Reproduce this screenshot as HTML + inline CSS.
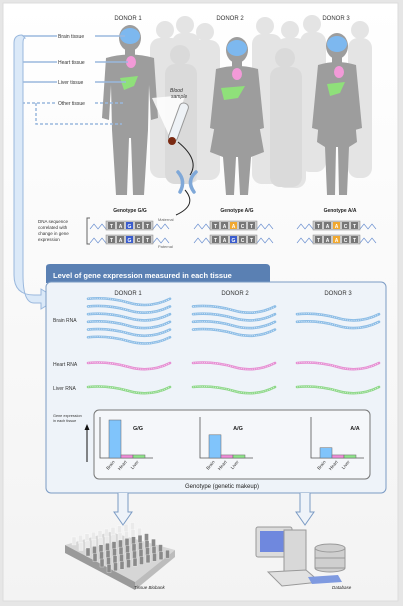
<!DOCTYPE html>
<html><head><meta charset="utf-8">
<style>
html,body{margin:0;padding:0;background:#e9e9e9;}
svg{display:block;font-family:"Liberation Sans",sans-serif;}
</style></head>
<body>
<svg id="fig" width="403" height="606" viewBox="0 0 403 606">
<defs>
<linearGradient id="bg" x1="0" y1="0" x2="0" y2="1"><stop offset="0" stop-color="#ffffff"/><stop offset="1" stop-color="#f3f3f3"/></linearGradient>
</defs>
<rect x="0" y="0" width="403" height="606" fill="#e6e6e6"/>
<rect x="3" y="3" width="395" height="598" fill="url(#bg)" stroke="#dcdcdc"/>

<!-- crowd -->
<g fill="#e4e4e4">
<circle cx="165" cy="30" r="9"/><rect x="150" y="38" width="32" height="140" rx="10"/>
<circle cx="185" cy="25" r="9"/><rect x="172" y="33" width="28" height="150" rx="10"/>
<circle cx="205" cy="32" r="9"/><rect x="190" y="40" width="30" height="140" rx="10"/>
<circle cx="265" cy="26" r="9"/><rect x="252" y="34" width="30" height="150" rx="10"/>
<circle cx="290" cy="30" r="9"/><rect x="276" y="38" width="30" height="150" rx="10"/>
<circle cx="312" cy="24" r="9"/><rect x="300" y="32" width="26" height="140" rx="10"/>
<circle cx="360" cy="30" r="9"/><rect x="348" y="38" width="24" height="140" rx="10"/>
<circle cx="180" cy="55" r="10" fill="#dadada"/><rect x="165" y="64" width="32" height="120" rx="10" fill="#dadada"/>
<circle cx="285" cy="58" r="10" fill="#dadada"/><rect x="270" y="67" width="32" height="120" rx="10" fill="#dadada"/>
</g>

<!-- donors -->
<g fill="#9d9d9d">
<g>
<ellipse cx="130" cy="38" rx="11" ry="13"/><rect x="125" y="48" width="10" height="9"/>
<path d="M106 58 Q130 51 154 58 L158 118 L151 120 L149 85 L148 130 L144 195 L133 195 L131 138 L129 138 L127 195 L116 195 L112 130 L111 85 L109 120 L102 118 Z"/>
</g>
<g>
<ellipse cx="237" cy="50" rx="11" ry="13"/><rect x="232" y="60" width="10" height="9"/>
<path d="M216 69 Q237 63 258 69 L264 128 L257 130 L255 102 L264 152 L251 157 L248 195 L240 195 L238 157 L236 157 L234 195 L226 195 L223 157 L210 152 L219 102 L217 130 L210 128 Z"/>
</g>
<g>
<ellipse cx="337" cy="46" rx="11" ry="13"/><rect x="332" y="56" width="10" height="9"/>
<path d="M318 65 Q337 59 356 65 L362 128 L355 130 L353 97 L357 142 L349 147 L347 195 L339 195 L338 147 L336 147 L335 195 L327 195 L325 147 L317 142 L321 97 L319 130 L312 128 Z"/>
</g>
</g>
<g>
<ellipse cx="130" cy="36" rx="10" ry="8" fill="#7db8ef"/>
<ellipse cx="237" cy="48" rx="10" ry="8" fill="#7db8ef"/>
<ellipse cx="337" cy="44" rx="10" ry="8" fill="#7db8ef"/>
<ellipse cx="131" cy="62" rx="5" ry="6" fill="#f29ad8"/>
<ellipse cx="237" cy="74" rx="5" ry="6" fill="#f29ad8"/>
<ellipse cx="339" cy="72" rx="5" ry="6" fill="#f29ad8"/>
<path d="M120 78 L138 76 L134 86 L124 90 Z" fill="#8fe07a"/>
<path d="M221 88 L245 86 L238 98 L224 100 Z" fill="#8fe07a"/>
<path d="M327 84 L345 82 L340 93 L330 96 Z" fill="#8fe07a"/>
</g>

<g font-size="6" fill="#333" text-anchor="middle">
<text x="128" y="20">DONOR 1</text><text x="230" y="20">DONOR 2</text><text x="336" y="20">DONOR 3</text>
</g>

<!-- tissue callouts -->
<g stroke="#9ab8dd" stroke-width="1.5" fill="none">
<path d="M57 36 H22 M95 36 H125 M57 62 H22 M95 62 H128 M57 82 H22 M95 82 H126"/>
<path d="M55 103 H22 M95 103 H125 M36 103 V124 H122" stroke-dasharray="3,2"/>
</g>
<g font-size="5" fill="#333">
<text x="58" y="38">Brain tissue</text><text x="58" y="64">Heart tissue</text><text x="58" y="84">Liver tissue</text><text x="58" y="105">Other tissue</text>
</g>
<path d="M22 35 Q14 35 14 43 V275 Q14 295 34 295 H41 V289 L57 299 L41 309 V303 H34 Q23 303 23 275 V43 Q23 38 25 38 Z" fill="#dbe9f8" stroke="#9ab8dd"/>

<!-- blood sample -->
<path d="M152 98 L185 95 L172 142 Z" fill="#fff" opacity="0.85"/>
<rect x="174" y="102" width="9" height="40" rx="4" fill="#eef2f6" stroke="#999" transform="rotate(20 178 122)"/>
<circle cx="172" cy="141" r="4" fill="#7a2a12"/>
<text x="170" y="92" font-size="5" font-style="italic" fill="#333">Blood</text>
<text x="171" y="98" font-size="5" font-style="italic" fill="#333">sample</text>
<path d="M178 142 Q200 160 190 175 M185 190 Q198 205 176 215" stroke="#222" fill="none" stroke-width="1"/>
<g stroke="#7fa8d8" stroke-width="3.5" stroke-linecap="round"><path d="M178 172 Q186 181 180 192 M196 172 Q186 181 194 192" fill="none"/></g>

<!-- genotypes -->
<g font-size="5" font-weight="bold" fill="#222" text-anchor="middle">
<text x="130" y="212">Genotype G/G</text><text x="237" y="212">Genotype A/G</text><text x="340" y="212">Genotype A/A</text>
</g>
<g font-size="4.5" fill="#333">
<text x="38" y="223">DNA sequence</text><text x="38" y="229">correlated with</text><text x="38" y="235">change in gene</text><text x="38" y="241">expression</text>
</g>
<path d="M90 218 H87 V244 H90" stroke="#666" fill="none"/>
<g font-size="4" fill="#666"><text x="158" y="221">Maternal</text><text x="158" y="248">Paternal</text></g>
<g id="dna"></g>

<!-- main box -->
<path d="M46 283 V267 Q46 264 50 264 H266 Q270 264 270 268 V283 Z" fill="#5a80b3"/>
<text x="53" y="278" font-size="7.5" font-weight="bold" fill="#fff">Level of gene expression measured in each tissue</text>
<rect x="46" y="282" width="340" height="211" rx="5" fill="#eef3f9" stroke="#7b9bc4"/>
<g font-size="6" fill="#333" text-anchor="middle">
<text x="128" y="295">DONOR 1</text><text x="235" y="295">DONOR 2</text><text x="338" y="295">DONOR 3</text>
</g>
<g font-size="5" fill="#333">
<text x="53" y="322">Brain RNA</text><text x="53" y="366">Heart RNA</text><text x="53" y="390">Liver RNA</text>
</g>
<g id="rna"></g>

<!-- bar chart area -->
<rect x="94" y="410" width="276" height="69" rx="5" fill="#f5f7fa" stroke="#777"/>
<g font-size="3.8" fill="#333"><text x="53" y="417">Gene expression</text><text x="53" y="422">in each tissue</text></g>
<path d="M87 462 V428" stroke="#111" stroke-width="1"/><path d="M84.5 430 L87 424 L89.5 430 Z" fill="#111"/>
<g id="bars"></g>
<text x="222" y="488" font-size="6" fill="#222" text-anchor="middle">Genotype (genetic makeup)</text>

<!-- down arrows -->
<path d="M118 493 V512 H114 L123 525 L132 512 H128 V493" fill="#eef3f9" stroke="#7b9bc4"/>
<path d="M300 493 V512 H296 L305 525 L314 512 H310 V493" fill="#eef3f9" stroke="#7b9bc4"/>

<!-- biobank -->
<g>
<path d="M65 545 L110 532 L175 550 L135 582 Z" fill="#d6d6d6"/>
<path d="M65 545 L135 582 L135 590 L65 553 Z" fill="#9a9a9a"/>
<path d="M135 582 L175 550 L175 557 L135 590 Z" fill="#bcbcbc"/>
<g id="vials"></g>
<text x="134" y="589" font-size="4.5" font-style="italic" fill="#222">Tissue Biobank</text>
</g>
<!-- database -->
<g>
<rect x="256" y="527" width="36" height="30" rx="2" fill="#dcdcdc" stroke="#999"/>
<rect x="260" y="531" width="27" height="21" fill="#6f88de"/>
<rect x="284" y="530" width="22" height="48" fill="#d8d8d8" stroke="#999"/>
<g fill="#cfcfcf" stroke="#999"><ellipse cx="330" cy="568" rx="15" ry="4"/><rect x="315" y="548" width="30" height="20"/><ellipse cx="330" cy="548" rx="15" ry="4"/><line x1="315" y1="558" x2="345" y2="558"/></g>
<path d="M268 572 L306 570 L320 582 L282 586 Z" fill="#e1e1e1" stroke="#999"/>
<path d="M308 577 L338 575 L342 582 L312 584 Z" fill="#7f9ae0"/>
<text x="332" y="589" font-size="4.5" font-style="italic" fill="#222">Database</text>
</g>
</svg>
<script>
// chart data
const genotypes = ["G/G", "A/G", "A/A"];
const tissues = ["Brain", "Heart", "Liver"];
const brainValues = [100, 61, 27];
const heartValues = [8, 8, 8];
const liverValues = [8, 8, 8];
const brainRnaCounts = [6, 4, 2];
const dnaMaternal = ["G", "A", "A"];
const dnaPaternal = ["G", "G", "A"];

const NS = "http://www.w3.org/2000/svg";
function mk(tag, attrs, parent){const e=document.createElementNS(NS,tag);for(const k in attrs)e.setAttribute(k,attrs[k]);parent.appendChild(e);return e;}
const groupX = [100, 200, 311];
const baseY = 458, maxH = 38, barW = 12;
const yScale = v => v / 100 * maxH;
const colors = {Brain:"#80c4fb", Heart:"#f08cd8", Liver:"#8ee38a"};
const bars = document.getElementById("bars");
genotypes.forEach((g, i) => {
  const gx = groupX[i];
  const ax = mk("path", {d:`M${gx} 417 V${baseY} H${gx+53}`, stroke:"#555", fill:"none", "stroke-width":"0.8"}, bars);
  
  
  const vals = [brainValues[i], heartValues[i], liverValues[i]];
  vals.forEach((v, j) => {
    const h = yScale(v);
    const r = mk("rect", {x:gx+9+j*barW, y:baseY-h, width:barW, height:h, fill:colors[tissues[j]], stroke:"#666", "stroke-width":"0.5"}, bars);
    
    
    const t = mk("text", {x:gx+15+j*barW, y:baseY+4, "font-size":"4.5", fill:"#333", "text-anchor":"end", transform:`rotate(-50 ${gx+15+j*barW} ${baseY+4})`}, bars);
    t.textContent = tissues[j];
    
    
  });
  const lbl = mk("text", {x:gx+(i===2?44:38), y:430, "font-size":"5.5", "font-weight":"bold", fill:"#222", "text-anchor":"middle"}, bars);
  lbl.textContent = g;
  
  
});

// RNA strands
const rna = document.getElementById("rna");
const rnaX = [88, 193, 297];
function wave(x0, y, col){
  const p = mk("path", {d:`M${x0} ${y} q20 -2 41 4 t41 -4`, stroke:col, "stroke-width":"2.6", fill:"none", "stroke-linecap":"round"}, rna);
  
  
  mk("path", {d:`M${x0} ${y} q20 -2 41 4 t41 -4`, stroke:"#fff", "stroke-width":"0.8", fill:"none", "stroke-dasharray":"1,1.2", opacity:"0.7"}, rna);
}
brainRnaCounts.forEach((n, i) => {
  const top = 320 - (n-1)*7.7/2;
  for (let k=0;k<n;k++) wave(rnaX[i], top + k*7.7 - 2, "#8dbde6");
  wave(rnaX[i], 363, "#e68fd3");
  wave(rnaX[i], 387, "#8fd88a");
});

// DNA
const dna = document.getElementById("dna");
const dnaX = [108, 212, 315];
function strip(x, y, mid){
  const letters = ["T","A",mid,"C","T"];
  mk("path", {d:`M${x-18} ${y+3} l4 -5 l4 5 l4 -5 l4 5`, stroke:"#6a8fd0", fill:"none", "stroke-width":"0.7"}, dna);
  mk("path", {d:`M${x+45} ${y+3} l4 -5 l4 5 l4 -5 l4 5`, stroke:"#6a8fd0", fill:"none", "stroke-width":"0.7"}, dna);
  mk("rect", {x:x-2, y:y-5, width:47, height:9, fill:"#ccc", stroke:"#888", "stroke-width":"0.5"}, dna);
  letters.forEach((L, k) => {
    const fill = k===2 ? (L==="G" ? "#3a5ccc" : "#f0a830") : "#777";
    mk("rect", {x:x+k*9, y:y-4, width:7, height:7, fill:fill}, dna);
    const t = mk("text", {x:x+k*9+3.5, y:y+1.8, "font-size":"5", "font-weight":"bold", fill:"#fff", "text-anchor":"middle"}, dna);
    t.textContent = L;
  });
}
dnaMaternal.forEach((m, i) => { strip(dnaX[i], 226, m); strip(dnaX[i], 240, dnaPaternal[i]); });

// vials
const vials = document.getElementById("vials");
for (let r=0;r<6;r++) for (let c=0;c<10;c++){
  const x = 72 + c*6.5 + r*7, y = 545 - c*1.6 + r*5.5;
  mk("rect", {x:x, y:y-8, width:4, height:8, fill: r<2 ? "#eaeaea" : "#8a8a8a", stroke:"#fff", "stroke-width":"0.3"}, vials);
}
</script>
</body></html>
